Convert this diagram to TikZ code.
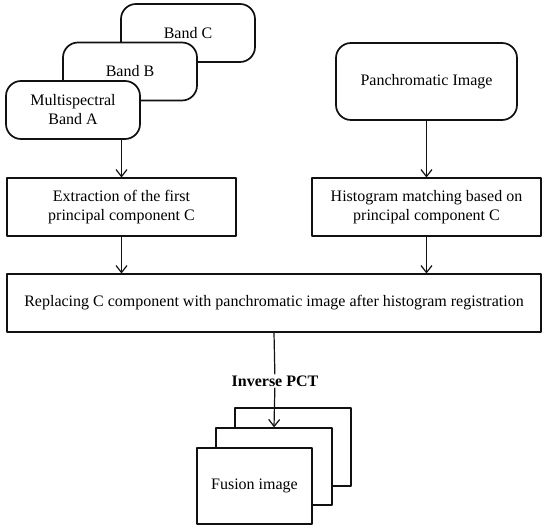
\documentclass[tikz,border=0pt]{standalone}
\usepackage{fontspec}
\setmainfont{Liberation Serif}
\usepackage{xcolor}
\usepackage{tikz}
\usetikzlibrary{arrows.meta,positioning,calc}
\definecolor{ink}{HTML}{111111}
\tikzset{
    every picture/.style={line join=round},
    bandbox/.style={draw=ink,fill=white,line width=1.7pt,rounded corners=15pt,
      minimum width=134pt,minimum height=58pt,inner sep=2pt,outer sep=0.5pt,
      font=\fontsize{16}{19}\selectfont,align=center},
    stepbox/.style={draw=ink,fill=white,line width=1.2pt,
      minimum width=229pt,minimum height=58pt,inner sep=2pt,outer sep=0.5pt,
      font=\fontsize{16}{19}\selectfont,align=center},
    layerbox/.style={draw=ink,fill=white,line width=1.2pt,
      minimum width=116pt,minimum height=77pt,inner sep=2pt,
      font=\fontsize{16}{19}\selectfont,align=center},
    flowarrow/.style={-{Straight Barb[length=7pt,width=11pt,line width=1.2pt]},draw=ink,
      line width=1.2pt},
    steplabel/.style={inner sep=1pt,font=\fontsize{16}{19}\selectfont\bfseries}
}
\begin{document}
\begin{tikzpicture}[x=1pt,y=-1pt]
  \useasboundingbox (0,0) rectangle (550,529);
  % stacked multispectral bands
  \node[bandbox] (bandC) at (188,33) {Band C};
  \node[bandbox] (bandB) at (130,71.5) {Band B};
  \node[bandbox] (bandA) at (73,110) {Multispectral\\Band A};
  \node[bandbox,minimum width=181pt,minimum height=77pt] (panimg) at (426.5,81.5) {Panchromatic Image};
  % processing steps
  \node[stepbox] (extract) at (121.5,207) {Extraction of the first\\principal component C};
  \node[stepbox] (histmatch) at (426.5,207) {Histogram matching based on\\principal component C};
  \node[stepbox,minimum width=534pt] (replace) at (274,303)
    {Replacing C component with panchromatic image after histogram registration};
  % fused result
  \node[layerbox,minimum height=78pt] (fuseC) at (293,447) {};
  \node[layerbox] (fuseB) at (274,466.5) {};
  \node[layerbox,minimum width=115pt,minimum height=76pt] (fuseA) at (254.5,486) {Fusion image};
  \node[steplabel] (pct) at (275,381) {Inverse PCT};
  \draw[flowarrow] (extract.north |- bandA.south) -- (extract.north);
  \draw[flowarrow] (panimg.south) -- (histmatch.north);
  \draw[flowarrow] (extract.south) -- (extract.south |- replace.north);
  \draw[flowarrow] (histmatch.south) -- (histmatch.south |- replace.north);
  \draw[line width=1.2pt,draw=ink] (replace.south -| fuseB.north) -- (pct);
  \draw[flowarrow] (pct) -- (fuseB.north);
\end{tikzpicture}
\end{document}
